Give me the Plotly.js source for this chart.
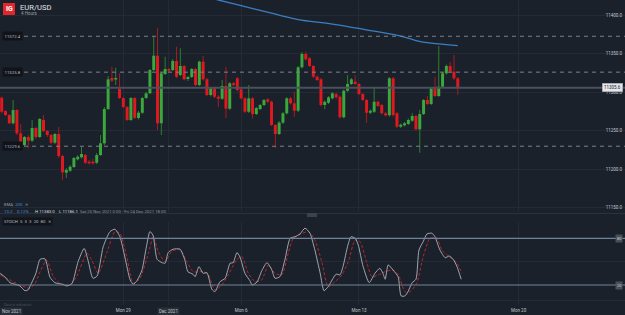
<!DOCTYPE html>
<html><head><meta charset="utf-8">
<script src="https://cdn.plot.ly/plotly-3.0.1.min.js"></script>
<style>html,body{margin:0;padding:0;background:#1b212b;}#chart{width:625px;height:315px;}</style>
</head><body><div id="chart"></div>
<script>
// ---- price data (EUR/USD x10000, 4h bars) ----
const open = [11292.6,11275.3,11270.1,11259.4,11276.6,11246.4,11231.2,11241.6,11236.8,11253.3,
11241.6,11263.7,11249.4,11244.2,11234.2,11245.5,11216.9,11195.2,11197.8,11202.6,
11212.6,11215.2,11218.2,11209.5,11209.5,11208.2,11218.2,11233.4,11277.9,11318.2,
11316.3,11303.9,11292.2,11280.5,11263.7,11292.2,11266.3,11273.1,11292.2,11298.3,
11328.6,11347.2,11259.4,11323.4,11329.9,11328.6,11340.3,11322.1,11333.8,11316.9,
11319.5,11329.9,11309.1,11339.4,11316.5,11296.1,11304.8,11293.9,11291.3,11307.8,
11278.3,11311.3,11317.8,11303.5,11291.8,11274.4,11291.8,11271.4,11277.9,11283.1,
11290.5,11287.4,11257.2,11245.5,11260.2,11272.4,11291.8,11285.3,11275.7,11332.1,
11349.4,11343.8,11333.8,11319.9,11316.5,11283.1,11286.1,11291.8,11297.4,11293.9,
11267.2,11301.7,11310.4,11313.4,11310.4,11297.4,11289.6,11273.1,11274.4,11287.4,
11283.1,11272.4,11269.8,11317.8,11272.4,11255.0,11256.8,11258.5,11262.8,11268.9,
11251.6,11271.4,11289.6,11284.4,11304.8,11294.8,11306.9,11324.3,11333.8,11326.4,
11317.8];
const close = [11274.4,11270.1,11259.4,11276.6,11246.4,11231.2,11241.6,11236.8,11253.3,11241.6,
11265.0,11249.4,11244.2,11234.2,11245.5,11216.9,11195.7,11198.7,11203.0,11214.3,
11216.0,11219.5,11208.2,11207.4,11207.4,11218.2,11233.4,11277.9,11316.5,11314.7,
11318.2,11292.2,11280.5,11263.7,11292.2,11266.3,11273.1,11292.2,11298.3,11328.6,
11347.2,11259.4,11324.3,11329.9,11327.7,11340.3,11319.9,11333.8,11316.5,11319.5,
11329.9,11309.1,11339.4,11316.5,11296.1,11304.8,11293.9,11291.3,11307.8,11278.3,
11311.3,11309.1,11302.6,11291.8,11274.4,11291.8,11271.4,11279.2,11283.1,11289.6,
11287.4,11257.2,11245.5,11260.2,11272.4,11291.8,11285.3,11275.7,11332.1,11349.4,
11342.5,11333.8,11319.9,11315.6,11283.1,11287.4,11293.1,11298.3,11293.1,11267.2,
11301.7,11310.4,11316.5,11310.4,11297.4,11289.6,11273.1,11275.7,11287.4,11281.8,
11272.4,11269.8,11317.8,11270.1,11255.0,11257.6,11259.4,11263.7,11268.9,11251.6,
11271.4,11289.6,11284.4,11304.8,11294.8,11306.9,11324.3,11333.8,11326.4,11317.8,
11305.6];
const high = [11294.2,11276.6,11271.4,11289.6,11277.9,11258.5,11242.9,11244.2,11263.7,11254.6,
11266.3,11270.1,11250.7,11245.5,11246.8,11254.6,11218.2,11201.3,11205.2,11215.6,
11218.2,11228.6,11219.5,11211.7,11213.0,11220.8,11244.2,11280.5,11320.8,11332.9,
11331.6,11324.3,11293.5,11281.8,11293.5,11293.5,11275.3,11293.5,11300.0,11329.9,
11371.8,11383.0,11326.0,11345.9,11331.2,11342.9,11358.8,11356.8,11335.1,11320.8,
11331.2,11331.2,11340.9,11347.2,11318.2,11306.5,11306.5,11296.1,11315.6,11332.9,
11313.0,11313.0,11319.5,11305.2,11293.5,11309.1,11293.5,11280.5,11284.4,11290.9,
11292.2,11289.0,11258.5,11262.4,11274.0,11293.5,11293.5,11300.4,11333.8,11352.0,
11352.4,11345.5,11335.1,11321.4,11318.2,11289.0,11294.8,11300.0,11299.4,11295.5,
11303.3,11322.1,11318.2,11322.1,11311.7,11298.7,11290.9,11277.3,11306.9,11289.0,
11284.4,11274.0,11319.5,11319.5,11274.0,11259.1,11261.1,11265.6,11272.7,11270.1,
11276.6,11290.9,11294.8,11306.5,11319.5,11359.8,11326.0,11335.7,11339.0,11348.1,
11319.5];
const low = [11272.1,11268.9,11258.5,11257.8,11244.2,11229.9,11229.9,11227.3,11235.1,11239.0,
11240.3,11248.1,11241.6,11232.5,11232.5,11214.3,11186.1,11188.3,11196.1,11201.3,
11211.1,11213.7,11206.5,11205.9,11205.9,11206.5,11216.9,11231.2,11276.6,11313.0,
11309.1,11290.9,11279.2,11262.4,11262.4,11265.0,11264.3,11271.4,11290.9,11297.4,
11327.3,11250.7,11244.2,11322.1,11326.0,11327.3,11318.2,11320.8,11315.0,11314.3,
11318.2,11307.8,11307.8,11315.0,11294.8,11294.2,11292.2,11280.9,11289.6,11265.9,
11276.6,11307.8,11300.7,11290.3,11272.7,11272.7,11265.9,11270.1,11276.6,11281.8,
11285.7,11255.9,11227.3,11244.2,11258.5,11270.8,11283.8,11267.9,11274.0,11330.5,
11340.9,11332.5,11318.2,11314.3,11281.2,11277.5,11284.4,11290.3,11291.6,11265.6,
11265.6,11300.0,11309.1,11309.1,11296.1,11288.3,11260.2,11271.4,11272.7,11280.5,
11270.8,11268.2,11268.2,11268.2,11253.3,11253.3,11255.2,11257.2,11261.1,11250.0,
11221.2,11270.1,11283.1,11283.1,11293.5,11293.5,11305.2,11322.7,11324.7,11315.6,
11296.1];

// EMA 200 readings (bar index, value)
const emaIdx = [55,57,63,68,73,78,87,96,105,109,113,120];
const emaVal = [11421.8,11419.5,11412.2,11406.0,11400.0,11393.9,11388.3,11380.8,11372.7,11366.9,11363.4,11360.3];

// Stochastic %K and %D readings (bar index, value)
const kIdx = [-0.4,0.9,2.2,3.5,4.8,6.1,6.9,8.0,9.0,10.1,11.4,12.7,14.0,15.9,17.2,18.5,20.1,21.7,22.7,24.0,25.1,26.7,28.5,29.8,31.1,32.4,33.8,34.6,35.6,36.9,38.0,39.0,39.8,40.9,42.2,43.0,43.8,45.1,46.9,48.2,49.0,50.3,50.9,51.9,53.0,54.0,55.3,56.1,57.4,58.8,60.1,60.9,61.9,62.7,64.0,65.3,65.9,67.2,68.5,69.8,71.1,71.9,73.2,74.5,75.9,77.2,78.5,79.8,81.1,82.4,83.8,84.8,85.9,87.2,88.0,89.0,89.8,91.1,91.9,93.0,93.8,95.1,96.7,98.2,99.5,100.3,100.9,101.7,103.0,104.3,105.1,106.1,106.9,108.0,109.0,109.8,110.9,111.9,113.2,114.0,115.3,116.7,117.7,118.8,119.8,120.9];
const kVal = [35,30,23,21,18.8,12.7,13.6,24,35,53,53.5,30,23,21,18.8,22,50,67,52,28.7,31.6,69,88.6,91.6,82,56,26.5,21,25.6,39,67,88.6,84,53,48.7,48,61.6,66,66,52,37,34,30.7,43.6,35,35.9,14.5,11.4,24,28.7,48,48.7,61.6,56,35,25.6,20,24,39,48.7,39,28.7,30.7,52,80,82,85.6,93,86.5,65,35,12.7,17.9,28.7,34,33,43.6,71.5,82,80,71.5,43.6,23,35,41.5,35,27.4,45.8,39,30.7,6,6,11.4,23,27.4,65,75.7,85.6,86.5,82,65,55,57.3,53,43.6,27.4];
const dIdx = [-0.4,2.2,4.8,7.4,8.8,10.1,11.8,13.6,15.3,18.0,19.7,22.4,23.7,25.4,27.6,29.8,31.1,32.9,34.6,36.4,38.6,39.9,41.2,43.0,44.7,46.9,48.7,50.4,53.1,54.4,56.1,57.9,59.6,61.8,63.2,64.9,66.7,68.4,70.2,71.9,73.7,75.4,76.7,78.5,80.7,82.4,84.2,85.9,87.7,89.5,91.2,93.0,94.3,96.1,97.4,99.1,100.9,103.0,104.4,106.1,107.4,109.2,110.9,112.7,114.5,115.8,117.5,119.8,121.1];
const dVal = [32.9,26.5,20,15.8,22.2,37,52,30.7,22.2,20,30.7,60.8,52,35,60.8,88.6,86.5,56.4,22.2,28.7,60.8,82.1,62.9,50,62.9,65.9,50,37.1,37.1,32.9,13.6,20,32.9,52.2,56.4,35,24.3,26.5,45.8,35,32.9,60.8,80,85,88.6,77.9,50,17.9,24.3,32.9,50,77.9,75.7,47.9,30.7,32.9,37.1,39.3,32.9,11.4,11.4,22.2,56.4,80,80,65,57.3,47.9,35];

// axis labels
const priceTicks = [11150,11200,11250,11300,11350,11400];
const timeTickIdx = [32,44,63,94,136];
const timeTickText = ["Mon 29","","Mon 6","Mon 13","Mon 20"];
const levels = [11372.4,11325.8,11229.6];
const lastPrice = 11305.6;
const stochBands = [80,20];

// ---- build ----
const W=625, H=315, PB=305;
const px = x => x/W;
const py = y => (PB - y)/PB;

const idx = close.map((_, i) => i);
const isUp = close.map((c,i)=> c >= open[i]);
const bodyCol = isUp.map(u => u ? '#3aa83c' : '#e2181f');
const wickCol = isUp.map(u => u ? '#2d7f30' : '#a81a1f');
const bodyBase = open.map((o,i)=>Math.min(o, close[i]));
const bodyLen = open.map((o,i)=>Math.max(Math.abs(close[i]-o), 0.7));
const wickLen = high.map((h,i)=>h-low[i]);

const traces = [
  {type:'bar', x:idx, y:wickLen, base:low, width:0.26, marker:{color:wickCol, line:{width:0}}, xaxis:'x', yaxis:'y', hoverinfo:'skip'},
  {type:'bar', x:idx, y:bodyLen, base:bodyBase, width:0.78, marker:{color:bodyCol, line:{width:0}}, xaxis:'x', yaxis:'y', hoverinfo:'skip'},
  {type:'scatter', mode:'lines', x:emaIdx, y:emaVal, line:{color:'#3a7fc2', width:1.3, shape:'spline'}, xaxis:'x', yaxis:'y'},
  {type:'scatter', mode:'lines', x:dIdx, y:dVal, line:{color:'#b8262c', width:1, dash:'3px,2px', shape:'spline', smoothing:0.6}, xaxis:'x2', yaxis:'y2'},
  {type:'scatter', mode:'lines', x:kIdx, y:kVal, line:{color:'#aeb3bb', width:0.9, shape:'spline', smoothing:0.6}, xaxis:'x2', yaxis:'y2'}
];

const grid = '#242b36';
const shapes = [];
levels.forEach(v => shapes.push({type:'line', xref:'paper', yref:'y', x0:px(24), x1:1, y0:v, y1:v, line:{color:'#7b818a', width:1, dash:'4px,4px'}}));
shapes.push({type:'line', xref:'paper', yref:'y', x0:0, x1:1, y0:lastPrice, y1:lastPrice, line:{color:'#4a515c', width:2}});
stochBands.forEach(v => shapes.push({type:'line', xref:'paper', yref:'y2', x0:0, x1:1, y0:v, y1:v, line:{color:'#6f8398', width:1.2}}));
shapes.push({type:'line', xref:'paper', yref:'paper', x0:0, x1:1, y0:py(213.5), y1:py(213.5), line:{color:'#2b323d', width:1}});
shapes.push({type:'rect', xref:'paper', yref:'paper', x0:px(307), x1:px(317), y0:py(217), y1:py(213), fillcolor:'#3b424d', line:{width:0}});
shapes.push({type:'rect', xref:'paper', yref:'paper', x0:px(3), x1:px(15), y0:py(15), y1:py(3), fillcolor:'#e3262c', line:{width:0}});

const F = 'Roboto, Arial, sans-serif';
const ann = [];
const txt = (x, y, text, size, color, extra) => ann.push(Object.assign({xref:'paper', yref:'paper', x:px(x), y:py(y), text:text, showarrow:false, xanchor:'left', yanchor:'middle', font:{family:F, size:size, color:color}}, extra||{}));
txt(9, 9.5, '<b>IG</b>', 7, '#ffffff', {xanchor:'center'});
txt(18, 7, 'EUR/USD', 7.6, '#e2e4e8');
txt(18.5, 14, '4 Hours', 4.5, '#9aa0a8');
txt(2, 204, 'EMA  <span style="color:#3d8fd6">200</span>  ✕', 4.3, '#9aa0a8');
txt(2, 211.5, '13.2', 4.3, '#3d8fd6');
txt(15, 211.5, '0.12%', 4.3, '#3d8fd6');
txt(33, 211.5, 'H 11383.0', 4.3, '#d8dade');
txt(57, 211.5, 'L 11186.1', 4.3, '#d8dade');
txt(78, 211.5, 'Sat 20 Nov 2021 0:00 - Fri 24 Dec 2021 18:00', 4.3, '#8d939b');
txt(2, 221, 'STOCH  5  3  3  20  80  ✕', 4.3, '#b8bcc2', {bgcolor:'#12161c', borderpad:1});
txt(2, 305, 'Data is indicative', 3.6, '#48505b');
txt(11, 311, 'Nov 2021', 4.5, '#c2c5ca', {xanchor:'center', bgcolor:'#2a303a', borderpad:1});
ann.push({xref:'x2', yref:'paper', x:timeTickIdx[1], y:py(311), text:'Dec 2021', showarrow:false, xanchor:'center', yanchor:'middle', font:{family:F, size:4.5, color:'#c2c5ca'}, bgcolor:'#2a303a', borderpad:1});
levels.forEach(v => ann.push({xref:'paper', yref:'y', x:px(2), y:v, text:v.toFixed(1), showarrow:false, xanchor:'left', yanchor:'middle', font:{family:F, size:4.3, color:'#b8bcc2'}, bgcolor:'#10141a', borderpad:1.5}));
ann.push({xref:'paper', yref:'y', x:px(623), y:lastPrice, text:lastPrice.toFixed(1), showarrow:false, xanchor:'right', yanchor:'middle', font:{family:F, size:4.5, color:'#1c2028'}, bgcolor:'#e4e6ea', bordercolor:'#9aa0a8', borderwidth:0.5, borderpad:1.5});
stochBands.forEach(v => ann.push({xref:'paper', yref:'y2', x:px(619), y:v, text:String(v), showarrow:false, xanchor:'center', yanchor:'middle', font:{family:F, size:3.8, color:'#d0d3d8'}, bgcolor:'#4a5059', borderpad:1}));

const layout = {
  width:W, height:H, paper_bgcolor:'#1b212b', plot_bgcolor:'#1b212b',
  margin:{l:0, r:0, t:0, b:H-PB}, showlegend:false, barmode:'overlay', hovermode:false,
  xaxis:{domain:[0,1], range:[-0.447,164], anchor:'y', tickvals:timeTickIdx, showticklabels:false, gridcolor:grid, gridwidth:1, zeroline:false, showline:false, ticks:''},
  xaxis2:{domain:[0,1], range:[-0.447,164], anchor:'y2', matches:'x', tickvals:timeTickIdx, ticktext:timeTickText, tickfont:{family:F, size:4.5, color:'#c2c5ca'}, gridcolor:grid, zeroline:false, showline:false, ticks:'', ticklabelstandoff:1},
  yaxis:{domain:[93/PB,1], range:[11144.2,11419.5], side:'right', anchor:'x', ticklabelposition:'inside', tickvals:priceTicks, ticktext:priceTicks.map(v=>v.toFixed(1)), tickfont:{family:F, size:4.5, color:'#c2c5ca'}, gridcolor:grid, zeroline:false, showline:false, ticks:''},
  yaxis2:{domain:[0,83/PB], range:[-5.65,100.9], anchor:'x2', tickvals:[0,50,100], showticklabels:false, gridcolor:grid, zeroline:false, showline:false, ticks:''},
  shapes:shapes, annotations:ann
};
Plotly.newPlot('chart', traces, layout, {staticPlot:true, displayModeBar:false});
</script></body></html>
